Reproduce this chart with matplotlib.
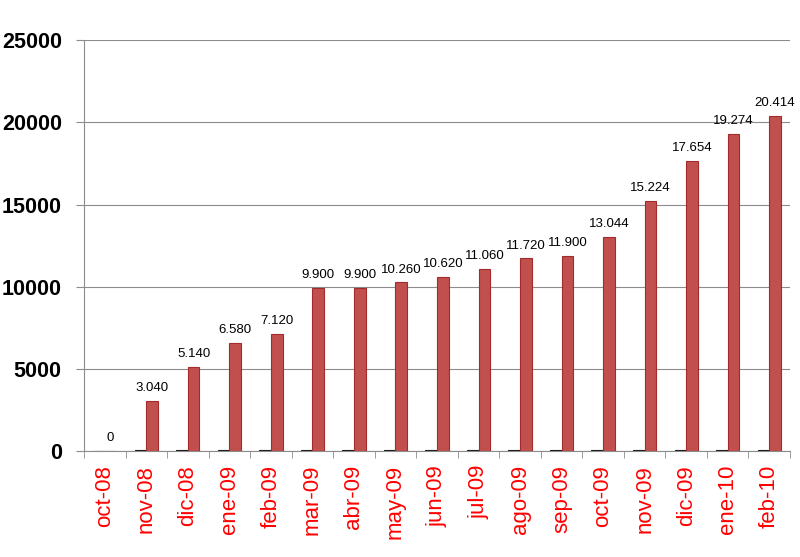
import matplotlib.pyplot as plt
import numpy as np

# data
months = ['oct-08', 'nov-08', 'dic-08', 'ene-09', 'feb-09', 'mar-09', 'abr-09',
          'may-09', 'jun-09', 'jul-09', 'ago-09', 'sep-09', 'oct-09', 'nov-09',
          'dic-09', 'ene-10', 'feb-10']
small_vals = [0, 80, 80, 80, 80, 80, 80, 80, 80, 80, 80, 80, 80, 80, 80, 80, 80]
totals = [0, 3040, 5140, 6580, 7120, 9900, 9900, 10260, 10620, 11060, 11720,
          11900, 13044, 15224, 17654, 19274, 20414]


def fmt(v):
    return f'{v:,}'.replace(',', '.')


plt.rcParams['font.family'] = ['Liberation Sans', 'DejaVu Sans']

fig = plt.figure(figsize=(8, 5.57), dpi=100)
ax = fig.add_axes([0.105, 0.19, 0.8825, 0.738])

x = np.arange(len(months))
w = 0.28
ax.bar(x - w / 2, small_vals, w, color='#1f1f1f', edgecolor='#1f1f1f', linewidth=0.8, zorder=3)
ax.bar(x + w / 2, totals, w, color='#C0504D', edgecolor='#A52A2A', linewidth=0.8, zorder=3)

for xi, v in zip(x, totals):
    ax.annotate(fmt(v), (xi + w / 2, v), xytext=(0, 5), textcoords='offset points',
                ha='center', va='bottom', fontsize=9.5)

ax.set_xlim(-0.5, len(months) - 0.5)
ax.set_ylim(0, 25000)
ax.set_yticks(range(0, 25001, 5000))
ax.set_yticklabels([str(t) for t in range(0, 25001, 5000)], fontsize=15.5, fontweight='bold')
ax.yaxis.grid(True, color='#8c8c8c', linewidth=0.8, zorder=0)
ax.tick_params(axis='y', length=6, color='#8c8c8c', pad=10)

ax.set_xticks(x)
ax.set_xticklabels(months, rotation=90, color='red', fontsize=16)
ax.tick_params(axis='x', length=0, pad=10)
ax.set_xticks(np.arange(-0.5, len(months), 1), minor=True)
ax.tick_params(axis='x', which='minor', length=5, color='#8c8c8c')

for s in ['top', 'right']:
    ax.spines[s].set_visible(False)
ax.spines['left'].set_color('#8c8c8c')
ax.spines['bottom'].set_color('#8c8c8c')

fig.savefig('out.png', dpi=100)
